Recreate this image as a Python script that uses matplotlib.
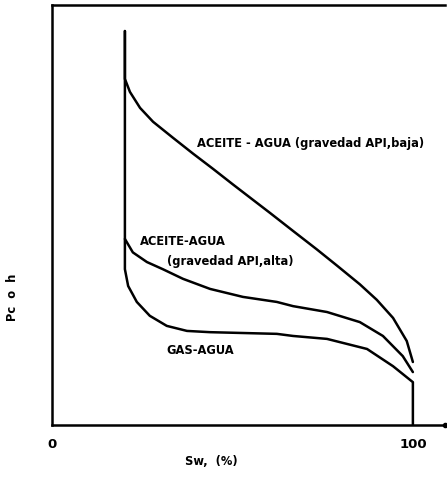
import matplotlib
matplotlib.use("Agg")
import matplotlib.pyplot as plt

# Curve data (Sw in %, Pc or h in relative units 0-100)
sw_baja = [20.2, 20.2, 21.6, 24.4, 28.0, 33.5, 39.1, 44.6, 50.1, 55.7, 60.4,
           66.8, 73.4, 78.9, 85.3, 90.0, 94.5, 98.3, 100.0]
pc_baja = [93.8, 82.4, 79.3, 75.5, 72.2, 68.4, 64.6, 61.0, 57.3, 53.6, 50.5,
           46.2, 41.8, 38.0, 33.5, 29.8, 25.5, 20.0, 15.0]

sw_alta = [20.2, 22.4, 26.3, 30.7, 36.3, 43.8, 52.9, 62.3, 66.8, 76.2, 85.3,
           91.7, 97.2, 100.0]
pc_alta = [44.3, 41.1, 38.8, 37.1, 34.8, 32.4, 30.5, 29.3, 28.3, 26.9, 24.5,
           21.2, 16.4, 12.6]

sw_gas = [20.2, 20.2, 21.1, 23.5, 27.1, 31.8, 37.4, 43.8, 62.3, 66.8, 76.2,
          87.3, 94.5, 100.0, 100.0]
pc_gas = [93.8, 37.1, 33.1, 29.3, 26.0, 23.6, 22.4, 22.1, 21.7, 21.2, 20.5,
          18.1, 14.0, 10.2, 0.0]

x_ticks = [0, 100]
x_tick_labels = ["0", "100"]

fig = plt.figure(figsize=(4.47, 4.85), dpi=100)
ax = fig.add_axes([52/447, 1-426/485, (445-52)/447, (426-6)/485])

lw = 1.8
for sx, sy in [(sw_baja, pc_baja), (sw_alta, pc_alta), (sw_gas, pc_gas)]:
    ax.plot(sx, sy, color="black", lw=lw, solid_capstyle="round",
            solid_joinstyle="round")

ax.set_xlim(0, 108.9)
ax.set_ylim(0, 100)
ax.set_xticks(x_ticks)
ax.set_xticklabels(x_tick_labels, fontsize=9.5, fontweight="bold")
ax.tick_params(axis="x", length=0, pad=9)
ax.set_yticks([])
ax.spines["right"].set_visible(False)
for s in ["left", "bottom", "top"]:
    ax.spines[s].set_linewidth(1.8)
ax.plot([108.9], [0], "o", color="black", ms=3, clip_on=False)

fk = dict(fontsize=8.3, fontweight="bold", color="black")
ax.text(71.6, 67.3, "ACEITE - AGUA (gravedad API,baja)", ha="center", va="center", **fk)
ax.text(24.3, 44.0, "ACEITE-AGUA", ha="left", va="center", **fk)
ax.text(31.8, 39.2, "(gravedad API,alta)", ha="left", va="center", **fk)
ax.text(31.8, 18.0, "GAS-AGUA", ha="left", va="center", **fk)

fig.text(211/447, 1-462/485, "Sw,  (%)", ha="center", va="center", **fk)
fig.text(13/447, 1-297/485, "Pc  o  h", ha="center", va="center", rotation=90,
         **fk)

fig.savefig("out.png", dpi=100)
